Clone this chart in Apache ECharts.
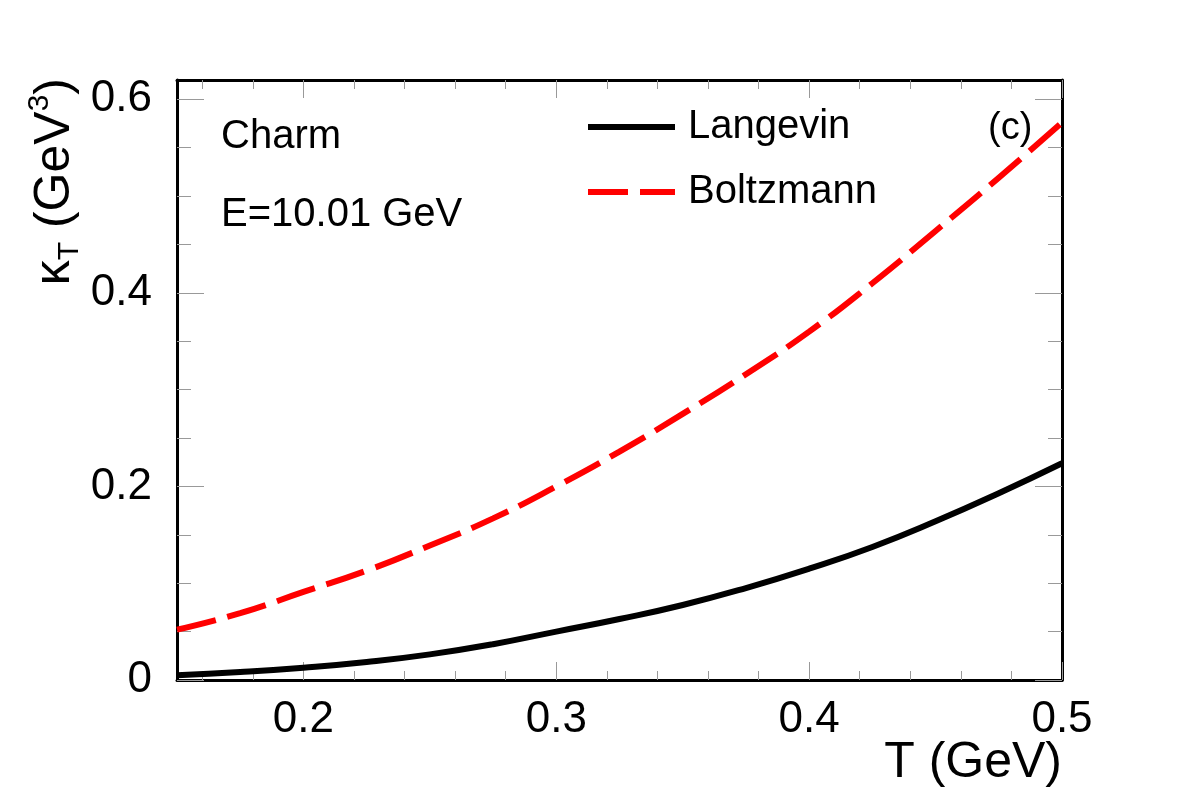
<!DOCTYPE html>
<html>
<head>
<meta charset="utf-8">
<script src="https://cdn.jsdelivr.net/npm/echarts@6/dist/echarts.min.js"></script>
<style>
html,body{margin:0;padding:0;background:#fff;}
#chart{width:1182px;height:803px;}
</style>
</head>
<body>
<div id="chart"></div>
<script>
// ---- data ----
const temperature = [0.15, 0.175, 0.2, 0.225, 0.25, 0.275, 0.3, 0.325, 0.35, 0.375, 0.4, 0.425, 0.45, 0.475, 0.5];
const langevin = [0.0048, 0.0082, 0.0127, 0.0186, 0.0265, 0.0370, 0.0500, 0.0630, 0.0775, 0.0950, 0.1150, 0.1375, 0.1640, 0.1930, 0.2240];
const boltzmann = [0.052, 0.069, 0.091, 0.113, 0.139, 0.167, 0.200, 0.236, 0.275, 0.316, 0.360, 0.410, 0.464, 0.519, 0.576];
const xMajorTicks = [0.2, 0.3, 0.4, 0.5];
const xMinorTicks = [0.16, 0.18, 0.22, 0.24, 0.26, 0.28, 0.32, 0.34, 0.36, 0.38, 0.42, 0.44, 0.46, 0.48];
const yMajorTicks = [0, 0.2, 0.4, 0.6];
const yMinorTicks = [0.05, 0.1, 0.15, 0.25, 0.3, 0.35, 0.45, 0.5, 0.55];
const seriesNames = ['Langevin', 'Boltzmann'];
const annotations = ['Charm', 'E=10.01 GeV', '(c)'];

const FONT = "'Liberation Sans', Arial, Helvetica, sans-serif";
const X_MIN = 0.15, X_MAX = 0.5, Y_MIN = 0, Y_MAX = 0.62;
const TICK_COLOR = '#999';

function pair(arrX, arrY) { return arrX.map((x, i) => [x, arrY[i]]); }

function xAxisDef(pos, ticks, len, showLine, showLabel) {
  return {
    type: 'value', position: pos, min: X_MIN, max: X_MAX, gridIndex: 0,
    axisLine: { show: showLine, onZero: false, lineStyle: { color: '#000', width: 3 } },
    axisTick: { show: true, inside: true, length: len, customValues: ticks, lineStyle: { color: TICK_COLOR, width: 1 } },
    axisLabel: { show: showLabel, customValues: ticks, fontFamily: FONT, fontSize: 44, color: '#000', margin: 18 },
    splitLine: { show: false }, minorTick: { show: false }
  };
}
function yAxisDef(pos, ticks, len, showLine, showLabel) {
  return {
    type: 'value', position: pos, min: Y_MIN, max: Y_MAX, gridIndex: 0,
    axisLine: { show: showLine, onZero: false, lineStyle: { color: '#000', width: 3 } },
    axisTick: { show: true, inside: true, length: len, customValues: ticks, lineStyle: { color: TICK_COLOR, width: 1 } },
    axisLabel: { show: showLabel, customValues: ticks, fontFamily: FONT, fontSize: 44, color: '#000', margin: 25 },
    splitLine: { show: false }, minorTick: { show: false }
  };
}

const xMain = xAxisDef('bottom', xMajorTicks, 18, true, true);
xMain.name = 'T (GeV)';
xMain.nameLocation = 'end';
xMain.nameGap = 0;
xMain.nameMoveOverlap = false;
xMain.nameTextStyle = { fontFamily: FONT, fontSize: 50, color: '#000', align: 'right', verticalAlign: 'top', padding: [58, 0, 0, 0] };

const yMain = yAxisDef('left', yMajorTicks, 27, true, true);
yMain.name = '{a|κ}{sub|T}{a| (GeV}{sup|3}{a|)}';
yMain.nameLocation = 'end';
yMain.nameRotate = 90;
yMain.nameGap = 2;
yMain.nameMoveOverlap = false;
yMain.nameTextStyle = {
  fontFamily: FONT, fontSize: 50, color: '#000', align: 'right', verticalAlign: 'bottom',
  padding: [0, 0, 92, 0],
  rich: {
    a: { fontFamily: FONT, fontSize: 50, lineHeight: 60, color: '#000' },
    sub: { fontFamily: FONT, fontSize: 30, color: '#000', verticalAlign: 'bottom', lineHeight: 26 },
    sup: { fontFamily: FONT, fontSize: 30, color: '#000', verticalAlign: 'top', lineHeight: 30 }
  }
};

const option = {
  backgroundColor: '#fff',
  animation: false,
  textStyle: { fontFamily: FONT },
  grid: { left: 177, top: 80, right: 120, bottom: 123, containLabel: false },
  xAxis: [
    xMain,
    xAxisDef('bottom', xMinorTicks, 9, false, false),
    xAxisDef('top', xMajorTicks, 18, true, false),
    xAxisDef('top', xMinorTicks, 9, false, false)
  ],
  yAxis: [
    yMain,
    yAxisDef('left', yMinorTicks, 14, false, false),
    yAxisDef('right', yMajorTicks, 27, true, false),
    yAxisDef('right', yMinorTicks, 14, false, false)
  ],
  legend: {
    orient: 'vertical', left: 585, top: 102, padding: 0, itemWidth: 87, itemHeight: 14, itemGap: 15,
    data: seriesNames,
    itemStyle: { opacity: 0 },
    lineStyle: { width: 6 },
    textStyle: { fontFamily: FONT, fontSize: 40, color: '#000', lineHeight: 50, padding: [0, 0, 0, 8] },
    selectedMode: false
  },
  graphic: [
    { type: 'text', left: 221, top: 117, style: { text: annotations[0], font: '40px ' + FONT, fill: '#000' } },
    { type: 'text', left: 221, top: 195, style: { text: annotations[1], font: '40px ' + FONT, fill: '#000' } },
    { type: 'text', left: 988, top: 110, style: { text: annotations[2], font: '38px ' + FONT, fill: '#000' } }
  ],
  series: [
    {
      name: seriesNames[0], type: 'line', xAxisIndex: 0, yAxisIndex: 0,
      data: pair(temperature, langevin), smooth: true, symbol: 'none',
      lineStyle: { color: '#000', width: 6, type: 'solid' }, itemStyle: { color: '#000' }
    },
    {
      name: seriesNames[1], type: 'line', xAxisIndex: 0, yAxisIndex: 0,
      data: pair(temperature, boltzmann), smooth: true, symbol: 'none',
      lineStyle: { color: '#ff0000', width: 6, type: [40, 12] }, itemStyle: { color: '#ff0000' }
    }
  ]
};

const chart = echarts.init(document.getElementById('chart'), null, { renderer: 'canvas' });
chart.setOption(option);
</script>
</body>
</html>
